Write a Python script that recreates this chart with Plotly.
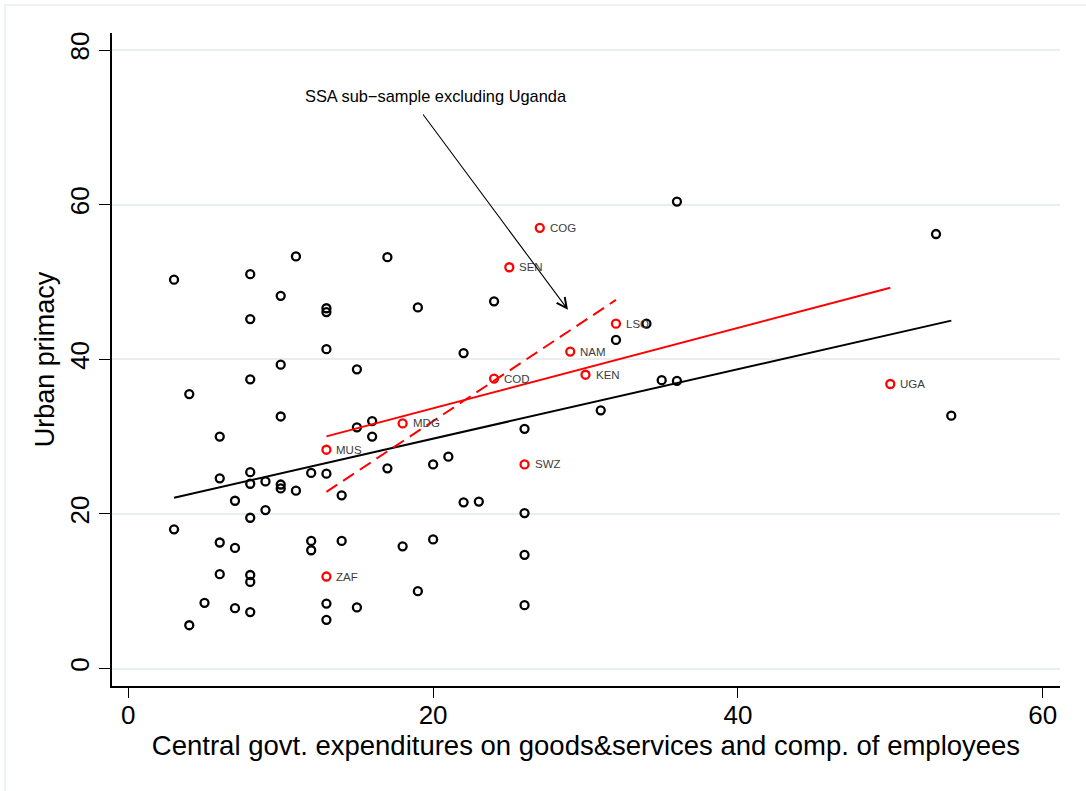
import numpy as np
import plotly.graph_objects as go

# Countries outside the labelled Sub-Saharan sample: (expenditure share, urban primacy)
other_x = [3, 8, 11, 10, 13, 13, 8, 13, 10, 8, 4, 10, 6, 6, 8, 8, 9, 10, 10, 11,
           12, 13, 7, 9, 8, 14, 3, 6, 7, 12, 12, 14, 6, 8, 8, 5, 7, 8, 13, 13,
           4, 17, 19, 24, 22, 15, 15, 16, 16, 26, 17, 20, 21, 22, 23, 26, 18, 20,
           26, 19, 15, 26, 36, 53, 34, 32, 35, 36, 31, 54]
other_y = [50.3, 51.0, 53.3, 48.2, 46.6, 46.1, 45.2, 41.3, 39.3, 37.4, 35.5, 32.6,
           30.0, 24.6, 25.4, 23.9, 24.2, 23.8, 23.3, 23.0, 25.3, 25.2, 21.7, 20.5,
           19.5, 22.4, 18.0, 16.3, 15.6, 16.5, 15.3, 16.5, 12.2, 12.1, 11.2, 8.5,
           7.8, 7.3, 8.4, 6.3, 5.6, 53.2, 46.7, 47.5, 40.8, 38.7, 31.2, 32.0, 30.0,
           31.0, 25.9, 26.4, 27.4, 21.5, 21.6, 20.1, 15.8, 16.7, 14.7, 10.0, 7.9,
           8.2, 60.4, 56.2, 44.6, 42.5, 37.3, 37.2, 33.4, 32.7]

# Sub-Saharan Africa sample
ssa_codes = ["COG", "SEN", "LSO", "NAM", "COD", "KEN", "MDG", "MUS", "SWZ", "ZAF", "UGA"]
ssa_x = [27, 25, 32, 29, 24, 30, 18, 13, 26, 13, 50]
ssa_y = [57.0, 51.9, 44.6, 41.0, 37.5, 38.0, 31.7, 28.3, 26.4, 11.9, 36.8]

# Fitted values of the full-sample regression (endpoints of the x range)
fit_all_x = [3, 54]
fit_all_y = [22.1, 45.0]

x_ticks = [0, 20, 40, 60]
y_ticks = [0, 20, 40, 60, 80]

note_text = "SSA sub\u2212sample excluding Uganda"
note_pos = (20.16, 74.1)
arrow_tail = (19.27, 71.85)
arrow_head = (28.85, 46.4)

FONT = "Liberation Sans, Arial, Helvetica, sans-serif"
GRID = "#e7eef1"


def fit_line(xs, ys):
    xs = np.asarray(xs, float)
    ys = np.asarray(ys, float)
    b, a = np.polyfit(xs, ys, 1)
    xe = np.array([xs.min(), xs.max()])
    return xe, a + b * xe


fx_ssa, fy_ssa = fit_line(ssa_x, ssa_y)
keep = [i for i, c in enumerate(ssa_codes) if c != "UGA"]
fx_exu, fy_exu = fit_line([ssa_x[i] for i in keep], [ssa_y[i] for i in keep])

fig = go.Figure()

fig.add_trace(go.Scatter(
    x=other_x, y=other_y, mode="markers",
    marker=dict(symbol="circle-open", size=8, color="black", line=dict(width=2.3)),
))
fig.add_trace(go.Scatter(
    x=ssa_x, y=ssa_y, mode="markers",
    marker=dict(symbol="circle-open", size=8, color="#ff0000", line=dict(width=2.3)),
))

fig.add_trace(go.Scatter(x=fit_all_x, y=fit_all_y, mode="lines",
                         line=dict(color="black", width=2), hoverinfo="skip"))
fig.add_trace(go.Scatter(x=fx_ssa, y=fy_ssa, mode="lines",
                         line=dict(color="#ff0000", width=2), hoverinfo="skip"))
fig.add_trace(go.Scatter(x=fx_exu, y=fy_exu, mode="lines",
                         line=dict(color="#ff0000", width=2, dash="13px,7px"),
                         hoverinfo="skip"))

# country codes to the right of each SSA marker
for cx, cy, code in zip(ssa_x, ssa_y, ssa_codes):
    fig.add_annotation(x=cx, y=cy, xref="x", yref="y", text=code, showarrow=False,
                       xanchor="left", yanchor="middle", xshift=8,
                       font=dict(family=FONT, size=11.5, color="#3c3c3c"))

fig.add_annotation(x=note_pos[0], y=note_pos[1], xref="x", yref="y",
                   text=note_text, showarrow=False,
                   font=dict(family=FONT, size=16.4, color="black"))
fig.add_annotation(x=arrow_head[0], y=arrow_head[1], ax=arrow_tail[0], ay=arrow_tail[1],
                   xref="x", yref="y", axref="x", ayref="y", text="",
                   showarrow=True, arrowhead=5, arrowsize=1.8, arrowwidth=1.1,
                   arrowcolor="black")

# outer graph-region frame
fig.add_shape(type="rect", xref="paper", yref="paper",
              x0=-0.1129, x1=1.5, y0=-0.5, y1=1.0429,
              line=dict(color=GRID, width=1.5), fillcolor="rgba(0,0,0,0)", layer="below")

fig.update_layout(
    width=1086, height=791,
    margin=dict(l=112, r=26, t=33, b=105),
    paper_bgcolor="white", plot_bgcolor="white",
    showlegend=False,
    font=dict(family=FONT, color="black"),
    xaxis=dict(
        range=[-1.07, 61.135], tickvals=x_ticks, ticks="outside", ticklen=10,
        tickwidth=1.2, tickcolor="black", showgrid=False, zeroline=False,
        showline=True, linecolor="black", linewidth=1.6, ticklabelstandoff=-5,
        tickfont=dict(size=26, family=FONT, color="black"),
        title=dict(text="Central govt. expenditures on goods&services and comp. of employees",
                   font=dict(size=27.5, family=FONT, color="black"), standoff=0),
    ),
    yaxis=dict(
        range=[-2.26, 82.2], tickvals=y_ticks, ticks="outside", ticklen=11,
        tickwidth=1.2, tickcolor="black", tickangle=-90,
        showgrid=True, gridcolor=GRID, gridwidth=1.5, zeroline=False,
        showline=True, linecolor="black", linewidth=1.6,
        tickfont=dict(size=26, family=FONT, color="black"),
        title=dict(text="Urban primacy",
                   font=dict(size=27, family=FONT, color="black"), standoff=2),
    ),
)

fig.write_html("out.html")
